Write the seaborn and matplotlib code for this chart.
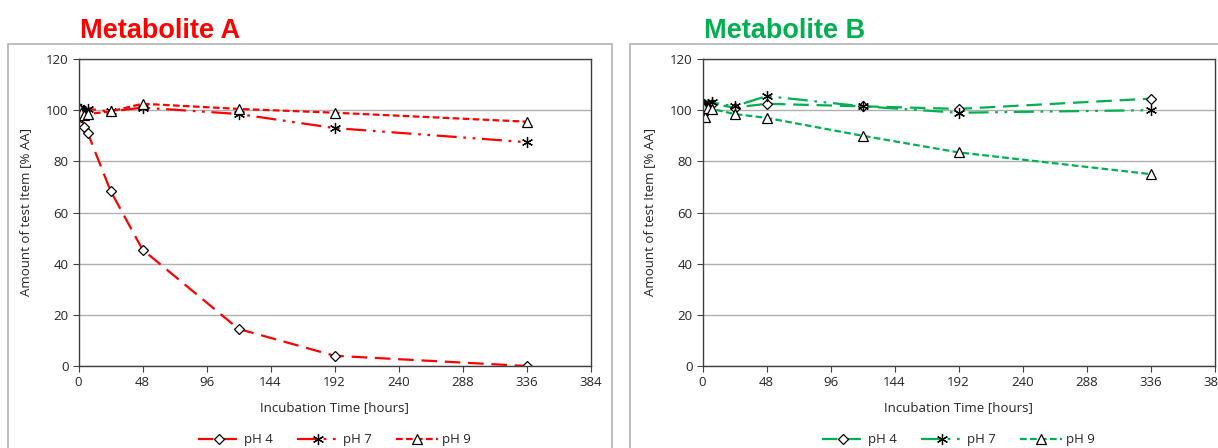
import pandas as pd
import matplotlib.pyplot as plt
import seaborn as sns
from matplotlib.patches import Rectangle

sns.set_style('white')
plt.rcParams['font.family'] = ['Open Sans', 'DejaVu Sans']

# 数据 - Metabolite A
t_a = [0, 1, 2, 4, 7, 24, 48, 120, 192, 336]
a_ph4 = [100.5, 100, 97.5, 93.5, 91, 68.5, 45.5, 14.5, 4, 0]
a_ph7 = [101, 100, 100.5, 100, 100.5, 99.5, 101, 98.5, 93, 87.5]
a_ph9 = [100, 100.5, 99, 98, 98.5, 99.5, 102.5, 100.5, 99, 95.5]

# 数据 - Metabolite B
t_b = [0, 1, 2, 4, 7, 24, 48, 120, 192, 336]
b_ph4 = [102, 102.5, 102, 101.5, 102.5, 101, 102.5, 101.5, 100.5, 104.5]
b_ph7 = [101, 102, 101.5, 102.5, 103, 101.5, 105.5, 101.5, 99, 100]
b_ph9 = [100, 101, 97.5, 101, 100.5, 98.5, 97, 90, 83.5, 75]

x_ticks = [0, 48, 96, 144, 192, 240, 288, 336, 384]
y_ticks = [0, 20, 40, 60, 80, 100, 120]
labels = ['pH 4', 'pH 7', 'pH 9']

styles = {
    'pH 4': dict(marker='D', markersize=5.5, linestyle=(0, (7, 3.5))),
    'pH 7': dict(marker=(6, 2, 0), markersize=8, linestyle=(0, (9, 3, 1.2, 3, 1.2, 3))),
    'pH 9': dict(marker='^', markersize=7, linestyle=(0, (3, 1.5))),
}

fig = plt.figure(figsize=(12.18, 4.48), dpi=100)

# 外框
for x0 in [8 / 1218, 630 / 1218]:
    fig.patches.append(Rectangle((x0, -0.1), 0.496, 1.0 - 44 / 448 + 0.1,
                                 transform=fig.transFigure, fill=False,
                                 edgecolor='#b3b3b3', linewidth=1.2))

panels = [
    ('Metabolite A', '#ff0000', t_a, [a_ph4, a_ph7, a_ph9], 78.5),
    ('Metabolite B', '#00b050', t_b, [b_ph4, b_ph7, b_ph9], 702.5),
]

for title, color, t, series, left in panels:
    ax = fig.add_axes([left / 1218, 82 / 448, 512 / 1218, 307 / 448])
    rows = []
    for lab, vals in zip(labels, series):
        for ti, v in zip(t, vals):
            rows.append({'time': ti, 'value': v, 'pH': lab})
    df = pd.DataFrame(rows)
    for lab in labels:
        st = styles[lab]
        sns.lineplot(data=df[df['pH'] == lab], x='time', y='value', ax=ax,
                     color=color, linewidth=1.6, linestyle=st['linestyle'],
                     marker=st['marker'], markersize=st['markersize'],
                     markerfacecolor='white', markeredgecolor='black',
                     markeredgewidth=0.9, label=lab, sort=False, estimator=None)
    ax.set_xlim(0, 384)
    ax.set_ylim(0, 120)
    ax.set_xticks(x_ticks)
    ax.set_yticks(y_ticks)
    ax.grid(axis='y', color='#b0b0b0', linewidth=1)
    ax.set_axisbelow(True)
    for sp in ax.spines.values():
        sp.set_color('#404040')
        sp.set_linewidth(1)
    ax.tick_params(axis='both', direction='out', length=4, width=0.8,
                   color='#404040', labelsize=9.5, pad=3, left=True, bottom=True)
    ax.set_xlabel('Incubation Time [hours]', fontsize=9.5, labelpad=9)
    ax.set_ylabel('Amount of test Item [% AA]', fontsize=9.5, labelpad=10)
    ax.legend(loc='center', bbox_to_anchor=(0.5, -0.24), ncol=3,
              frameon=False, fontsize=9.5, handlelength=3.2, columnspacing=1.8,
              handletextpad=0.3)
    fig.text((left + 1.5) / 1218, 1 - 38 / 448, title, color=color,
             fontsize=19.5, fontweight='bold', family=['Liberation Sans', 'DejaVu Sans'])

fig.savefig('out.png', dpi=100)
